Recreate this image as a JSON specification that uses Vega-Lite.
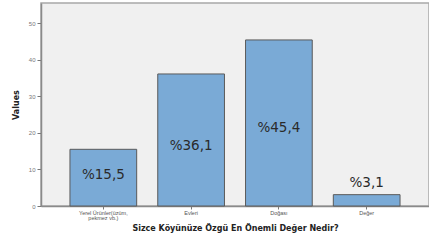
{
  "$schema": "https://vega.github.io/schema/vega-lite/v6.json",
  "autosize": "none",
  "width": 388,
  "height": 203,
  "padding": {"left": 41, "top": 3, "right": 0, "bottom": 35},
  "background": "white",
  "config": {
    "view": {"fill": "#f0f0f0", "stroke": "#a8a8a8", "strokeWidth": 1.5},
    "axis": {"labelFont": "Liberation Sans", "titleFont": "DejaVu Sans", "grid": false}
  },
  "data": {
    "values": [
      {"cat": "Yerel Ürünler(üzüm,|pekmez vb.)", "value": 15.5, "label": "%15,5", "labelAt": 8.5},
      {"cat": "Evleri", "value": 36.1, "label": "%36,1", "labelAt": 16.4},
      {"cat": "Doğası", "value": 45.4, "label": "%45,4", "labelAt": 21.3},
      {"cat": "Değer", "value": 3.1, "label": "%3,1", "labelAt": 6.3}
    ]
  },
  "encoding": {
    "x": {
      "field": "cat",
      "type": "nominal",
      "sort": null,
      "scale": {"paddingInner": 0.24, "paddingOuter": 0.33},
      "axis": {
        "title": "Sizce Köyünüze Özgü En Önemli Değer Nedir?",
        "titleFontSize": 8,
        "titleFontWeight": "bold",
        "titleColor": "#222222",
        "titlePadding": 3,
        "labelAngle": 0,
        "labelFontSize": 5.5,
        "labelColor": "#555555",
        "labelExpr": "split(datum.value, '|')",
        "labelLineHeight": 5.5,
        "labelPadding": 1,
        "tickSize": 3,
        "tickColor": "#777777",
        "domainColor": "#8a8a8a",
        "domainWidth": 1.5
      }
    }
  },
  "layer": [
    {
      "mark": {"type": "bar", "fill": "#7aaad6", "stroke": "#5a5a5a", "strokeWidth": 1},
      "encoding": {
        "y": {
          "field": "value",
          "type": "quantitative",
          "scale": {"domain": [0, 55.5], "nice": false},
          "axis": {
            "title": "Values",
            "titleFontSize": 8,
            "titleFontWeight": "bold",
            "titleColor": "#222222",
            "titlePadding": 8,
            "values": [0, 10, 20, 30, 40, 50],
            "labelFontSize": 6,
            "labelColor": "#777777",
            "tickSize": 4,
            "tickColor": "#777777",
            "domainColor": "#8a8a8a",
            "domainWidth": 1.5,
            "labelPadding": 2
          }
        }
      }
    },
    {
      "mark": {"type": "text", "font": "DejaVu Sans", "fontSize": 13.5, "fill": "#2a2a2a"},
      "encoding": {
        "y": {"field": "labelAt", "type": "quantitative"},
        "text": {"field": "label"}
      }
    }
  ]
}
